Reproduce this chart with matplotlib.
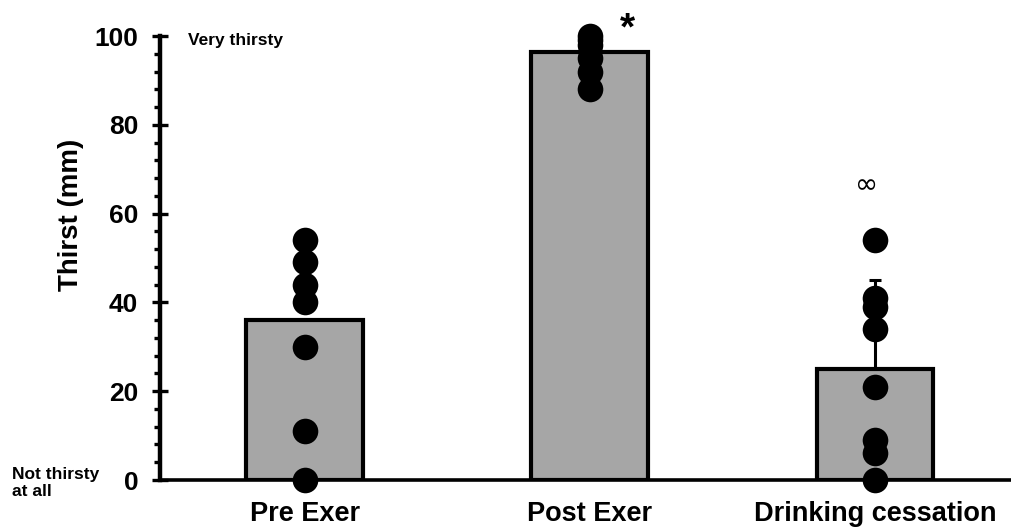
import numpy as np
import matplotlib.pyplot as plt
from matplotlib.ticker import MultipleLocator

plt.rcParams['font.family'] = ['Liberation Sans', 'DejaVu Sans']
plt.rcParams['font.weight'] = 'bold'

conditions = ['Pre Exer', 'Post Exer', 'Drinking cessation']
means = [36, 96.3, 25]
err_up = [0, 0, 20]

pre = [54, 49, 44, 40, 30, 11, 0]
post = [100, 99, 98, 95, 92, 88]
drink = [54, 41, 39, 34, 21, 9, 6, 0]
subjects = [pre, post, drink]

fig = plt.figure(figsize=(10.11, 5.28), dpi=100)
ax = fig.add_axes([0.158, 0.0909, 0.842, 0.8409])

x = np.arange(len(conditions))
ax.bar(x, means, width=0.41, color='#a6a6a6', edgecolor='black',
       linewidth=3, zorder=2)
ax.errorbar(x[2], means[2], yerr=[[0], [err_up[2]]], fmt='none',
            ecolor='black', elinewidth=2.2, capsize=4, capthick=2.2, zorder=1)

# individual subjects on top of the bars
for i, vals in enumerate(subjects):
    ax.scatter(np.full(len(vals), x[i]), vals, s=340, color='black',
               zorder=4, clip_on=False, linewidths=0)

ax.text(x[1] + 0.13, 101.5, '*', fontsize=28, ha='center', va='center')
ax.text(x[2] - 0.03, 66.5, '\u221e', fontsize=20, ha='center', va='center',
        fontweight='normal', family=['DejaVu Sans'])

ax.set_xlim(-0.509, 2.477)
ax.set_ylim(0, 100)
ax.set_xticks(x)
ax.set_xticklabels(conditions, fontsize=19.5, fontweight='bold')
ax.tick_params(axis='x', length=0, pad=15)

ax.yaxis.set_major_locator(MultipleLocator(20))
ax.yaxis.set_minor_locator(MultipleLocator(4))
ax.tick_params(axis='y', which='major', direction='inout', length=11,
               width=2.4, labelsize=19, pad=10)
ax.tick_params(axis='y', which='minor', direction='out', length=4, width=2.4)
for lab in ax.get_yticklabels():
    lab.set_fontweight('bold')

ax.set_ylabel('Thirst (mm)', fontsize=20, fontweight='bold')
ax.yaxis.set_label_coords(-0.089, 0.597)

for side in ['top', 'right']:
    ax.spines[side].set_visible(False)
ax.spines['left'].set_linewidth(3.2)
ax.spines['bottom'].set_linewidth(2.6)

ax.text(0.033, 0.99, 'Very thirsty', transform=ax.transAxes, fontsize=12.5,
        fontweight='bold', ha='left', va='center')
fig.text(12 / 1011, 1 - 483 / 528, 'Not thirsty\nat all', fontsize=12.5,
         fontweight='bold', ha='left', va='center', linespacing=1.2)

fig.savefig('out.png', dpi=100)
